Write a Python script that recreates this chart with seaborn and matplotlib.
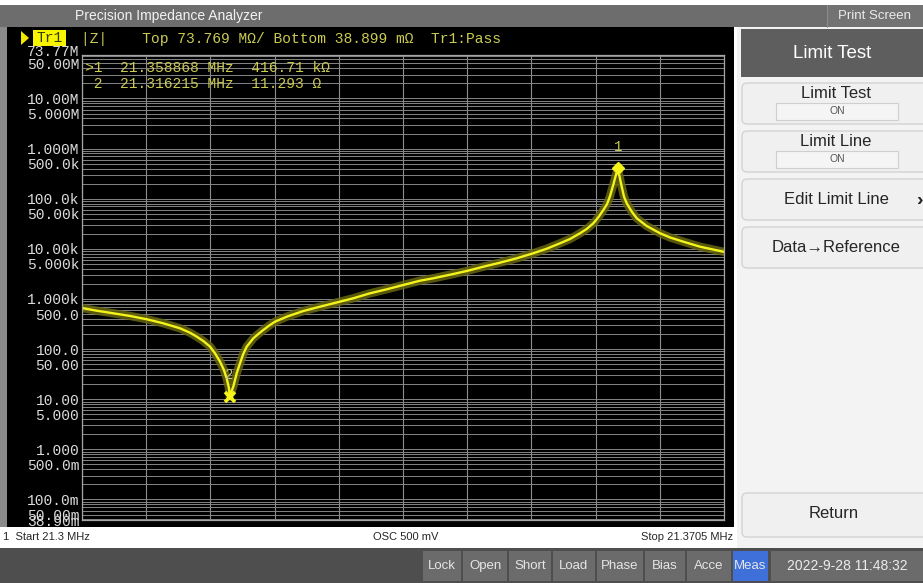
import matplotlib
matplotlib.use("Agg")
import matplotlib.pyplot as plt
import matplotlib.transforms as mtransforms
import numpy as np
import seaborn as sns
from matplotlib.patches import FancyBboxPatch, Polygon, Rectangle
from matplotlib.ticker import LogLocator, NullFormatter

# |Z| sweep (MHz, ohm)
freq_mhz = [
    21.30000, 21.30161, 21.30344, 21.30527, 21.30711, 21.30893, 21.31076,
    21.31186, 21.31260, 21.31332, 21.31406, 21.31461, 21.31516, 21.31559,
    21.31589, 21.31614, 21.316215, 21.31662, 21.31699, 21.31735, 21.31771,
    21.31809, 21.31881, 21.31936, 21.31991, 21.32065, 21.32119, 21.32248,
    21.32430, 21.32614, 21.32833, 21.32979, 21.33163, 21.33346, 21.33528,
    21.33712, 21.33858, 21.34041, 21.34225, 21.34407, 21.34590, 21.34774,
    21.34956, 21.35103, 21.35249, 21.35359, 21.35469, 21.35542, 21.35615,
    21.35670, 21.35725, 21.35766, 21.35799, 21.35817, 21.35837, 21.35853,
    21.358868, 21.35893, 21.35904, 21.35914, 21.35927, 21.35952, 21.35982,
    21.36037, 21.36092, 21.36201, 21.36348, 21.36458, 21.36603, 21.36787,
    21.37043, 21.37050,
]
impedance_ohm = [
    661, 583, 518, 458, 394, 327, 260,
    212, 177, 145, 112, 82, 56, 38,
    26, 16.5, 11.293, 18, 33, 52, 80,
    112, 164, 200, 241, 303, 352, 443,
    575, 702, 883, 1033, 1298, 1560, 1901,
    2317, 2588, 3048, 3614, 4406, 5297, 6486,
    8166, 10070, 12910, 15740, 20460, 24900, 32360,
    42660, 59570, 78500, 113500, 149000, 196800, 256000,
    416710, 326600, 275000, 220800, 174000, 109900, 81100,
    55200, 40740, 28580, 20460, 16860, 13900, 11040,
    8770, 8750,
]

marker_ids = ["1", "2"]
marker_freq = [21.358868, 21.316215]
marker_imp = [416710.0, 11.293]

sweep_start, sweep_stop = 21.3, 21.3705
scale_top, scale_bottom = 73.769e6, 38.899e-3

ytick_values = [73.769e6, 50e6, 10e6, 5e6, 1e6, 500e3, 100e3, 50e3, 10e3, 5e3,
                1e3, 500, 100, 50, 10, 5, 1, 0.5, 0.1, 0.05, 0.038899]
ytick_labels = ["73.77M", "50.00M", "10.00M", "5.000M", "1.000M", "500.0k",
                "100.0k", "50.00k", "10.00k", "5.000k", "1.000k", "500.0",
                "100.0", "50.00", "10.00", "5.000", "1.000", "500.0m",
                "100.0m", "50.00m", "38.90m"]

header_text = "|Z|    Top 73.769 M\u03a9/ Bottom 38.899 m\u03a9  Tr1:Pass"
readout_lines = [">1  21.358868 MHz  416.71 k\u03a9",
                 " 2  21.316215 MHz  11.293 \u03a9"]

softkeys = ["Limit Test", "Limit Line", "Edit Limit Line", "Data\u2192Reference"]
status_keys = ["Lock", "Open", "Short", "Load", "Phase", "Bias", "Acce", "Meas"]
timestamp = "2022-9-28 11:48:32"

W, H = 923, 583
MONO = ["Liberation Mono", "DejaVu Sans Mono"]
SANS = ["Liberation Sans", "DejaVu Sans"]
NARROW = ["Liberation Sans Narrow", "Liberation Sans", "DejaVu Sans"]
OLIVE = "#cbcb52"
TRACE = "#f4f41c"

sns.set_style("dark")
plt.rcParams["font.family"] = SANS

fig = plt.figure(figsize=(W / 100, H / 100), dpi=100)
fig.patch.set_facecolor("white")

# screen chrome drawn in pixel coordinates
ui = fig.add_axes([0, 0, 1, 1], zorder=0)
ui.set_xlim(0, W)
ui.set_ylim(H, 0)
ui.axis("off")


def box(x0, y0, x1, y1, color, **kw):
    ui.add_patch(Rectangle((x0, y0), x1 - x0, y1 - y0, facecolor=color,
                           edgecolor=kw.pop("edgecolor", "none"), **kw))


def rbox(x0, y0, x1, y1, color, edge):
    ui.add_patch(FancyBboxPatch((x0, y0), x1 - x0, y1 - y0,
                                boxstyle="round,pad=0,rounding_size=5",
                                facecolor=color, edgecolor=edge, lw=1))


# title bar
box(0, 5, W, 27, "#6d6d6d")
box(0, 27, 7, 548, "#8a8a8a")
ui.text(75, 16, "Precision Impedance Analyzer", color="#f2f2f2", fontsize=10,
        va="center", ha="left")
box(827, 5, W, 27, "#737373")
ui.plot([827, 827], [5, 27], color="#8c8c8c", lw=0.8)
ui.text(875, 16, "Print Screen", color="#ececec", fontsize=9.5,
        va="center", ha="center")

# black trace window
box(7, 27, 734, 527, "black")
ui.add_patch(Polygon([[21, 31], [21, 45], [29, 38]], closed=True,
                     facecolor="#f0e800", edgecolor="none"))
box(33, 30, 66, 46, "#f7f400")
ui.text(49.5, 38.5, "Tr1", color="#3a3a00", fontsize=10.5, family=MONO,
        va="center", ha="center")
ui.text(81, 38.5, header_text, color=OLIVE, fontsize=10.5, family=MONO,
        va="center", ha="left")

# status strip under the trace
box(0, 527, 736, 548, "white")
ui.text(3, 537, "1  Start 21.3 MHz", fontsize=8, family=NARROW, va="center")
ui.text(406, 537, "OSC 500 mV", fontsize=8, family=NARROW, va="center",
        ha="center")
ui.text(733, 537, "Stop 21.3705 MHz", fontsize=8, family=NARROW, va="center",
        ha="right")

# softkey panel
box(737, 27, W, 548, "#f3f3f3")
box(741, 29, W, 77, "#5e5e5e")
ui.text(832, 53, "Limit Test", color="white", fontsize=13.5, va="center",
        ha="center")
key_rows = [(83, 124), (131, 172), (179, 220), (227, 268)]
for label, (top, bot) in zip(softkeys, key_rows):
    rbox(742, top, W + 6, bot, "#f0f0f0", "#d3d3d3")
    if label in ("Limit Test", "Limit Line"):
        ui.text(836, top + 10, label, fontsize=12, va="center", ha="center")
        box(776, top + 20, 898, top + 37, "#f5f5f5", edgecolor="#cfcfcf",
            lw=0.8)
        ui.text(837, top + 28.5, "ON", color="#555555", fontsize=7.5,
                va="center", ha="center")
    else:
        ui.text(836, (top + bot) / 2, label, fontsize=12, va="center",
                ha="center")
ui.text(919, 200, "\u203a", fontsize=14, fontweight="bold", va="center",
        ha="center")
rbox(742, 493, W + 6, 537, "#f0f0f0", "#d3d3d3")
ui.text(834, 514, "Return", fontsize=12, va="center", ha="center")

# bottom key bar
box(0, 548, W, H, "#4e4e4e")
key_spans = [(423, 461), (463, 507), (509, 551), (553, 595), (597, 643),
             (645, 685), (687, 731), (733, 768)]
for label, (x0, x1) in zip(status_keys, key_spans):
    box(x0, 551, x1, 581, "#3f6fd8" if label == "Meas" else "#6b6b6b")
    ui.text((x0 + x1) / 2, 566, label, color="#e6e6e6", fontsize=9.5,
            family=NARROW, va="center", ha="center")
box(771, 551, W, 581, "#6b6b6b")
ui.text(847, 566, timestamp, color="#ececec", fontsize=10, family=NARROW,
        va="center", ha="center")

# the |Z| trace itself
left, right, top, bottom = 82, 724, 55, 520
ax = fig.add_axes([left / W, 1 - bottom / H, (right - left) / W,
                   (bottom - top) / H], zorder=1)
ax.set_facecolor("black")
ax.set_yscale("log")

sns.lineplot(x=freq_mhz, y=impedance_ohm, ax=ax, color="#66660f",
             linewidth=6, alpha=0.85, sort=False)
sns.lineplot(x=freq_mhz, y=impedance_ohm, ax=ax, color=TRACE,
             linewidth=1.7, sort=False)

ax.plot(marker_freq[0], marker_imp[0], marker="D", ms=6, color=TRACE,
        ls="none", zorder=5)
ax.plot(marker_freq[1], marker_imp[1], marker="x", ms=7, mew=2.6,
        color=TRACE, ls="none", zorder=5)
ax.annotate(marker_ids[0], (marker_freq[0], marker_imp[0]),
            xytext=(0, 21), textcoords="offset pixels", color=OLIVE,
            fontsize=10, family=MONO, ha="center", va="center", zorder=6)
ax.annotate(marker_ids[1], (marker_freq[1], marker_imp[1]),
            xytext=(0, 22), textcoords="offset pixels", color="#c2c28a",
            fontsize=10, family=MONO, ha="center", va="center", zorder=6)

# marker readout block in the upper-left of the grid
for i, line in enumerate(readout_lines):
    fig.text(85 / W, 1 - (68 + 15.5 * i) / H, line, color=OLIVE,
             fontsize=10.5, family=MONO, va="center", ha="left", zorder=10)

ax.set_xlim(sweep_start, sweep_stop)
ax.set_ylim(scale_bottom, scale_top)
ax.set_xticks(np.linspace(sweep_start, sweep_stop, 11))
ax.set_xticklabels([])
ax.set_yticks(ytick_values)
ax.set_yticklabels(ytick_labels, family=MONO, fontsize=10.5, color="#dcdcdc")
ax.yaxis.set_minor_locator(LogLocator(base=10, subs=np.arange(1, 10),
                                      numticks=100))
ax.yaxis.set_minor_formatter(NullFormatter())
ax.tick_params(axis="both", which="both", length=0, pad=2)
# the top scale label sits a little above its line on the instrument
top_label = ax.get_yticklabels()[0]
top_label.set_transform(top_label.get_transform() +
                        mtransforms.ScaledTranslation(0, 5 / 100,
                                                      fig.dpi_scale_trans))
ax.grid(True, which="major", axis="x", color="#8e8e8e", lw=0.8)
ax.grid(True, which="both", axis="y", color="#858585", lw=0.7)
ax.set_xlabel("")
ax.set_ylabel("")
for side in ax.spines.values():
    side.set_color("#a5a5a5")
    side.set_linewidth(0.9)

fig.savefig("out.png", dpi=100, facecolor=fig.get_facecolor())
